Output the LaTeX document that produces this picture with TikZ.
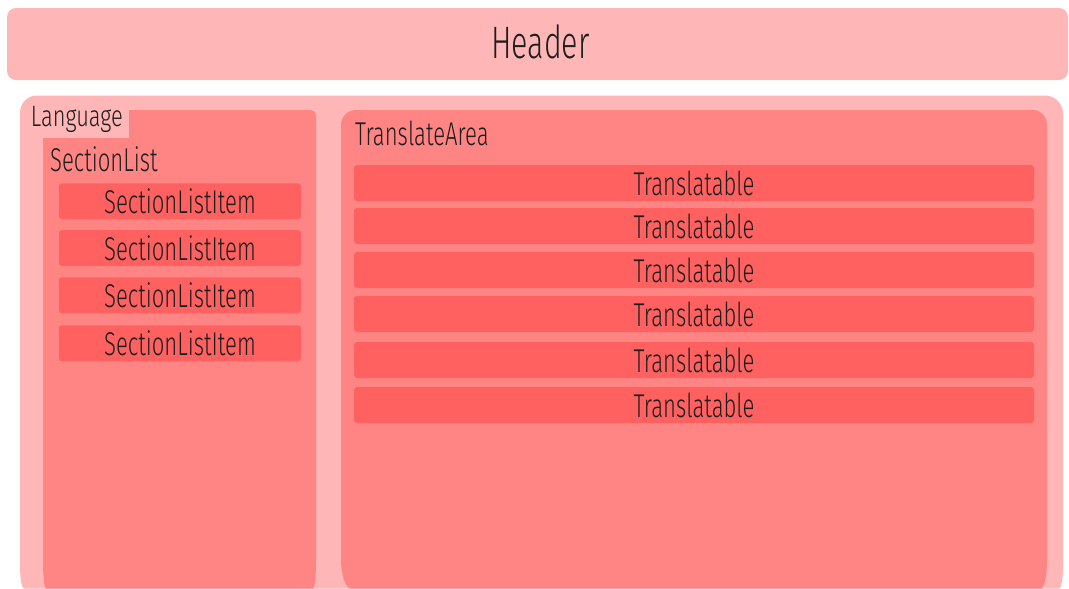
\documentclass[tikz,border=0pt]{standalone}
\usepackage{fontspec}
\newfontfamily\condfont{Fira Sans Light}[FakeStretch=0.67]
\newfontfamily\langfont{Fira Sans Light}[FakeStretch=0.74]
\definecolor{cLight}{HTML}{FFB6B6}
\definecolor{cMid}{HTML}{FF8585}
\definecolor{cDark}{HTML}{FF6161}
\definecolor{cText}{HTML}{1E1E1E}
\tikzset{
  lbltext/.style={text=cText, inner sep=0pt, font=\condfont\fontsize{33}{38}\selectfont},
  itembox/.style={lbltext, fill=cDark, rounded corners=3pt, minimum height=36pt,
                  text height=24.6pt, text depth=0pt},
  sectitem/.style={itembox, minimum width=242pt},
  transitem/.style={itembox, minimum width=680pt},
}
\begin{document}
\begin{tikzpicture}[x=1pt,y=-1pt]
\useasboundingbox[fill=white] (0,0) rectangle (1069,589);
% Header
\node[lbltext, fill=cLight, rounded corners=9pt, minimum width=1061pt, minimum height=72pt,
      text height=28.6pt, text depth=0pt, font=\condfont\fontsize{45.5}{52}\selectfont]
      (header) at (537.5,44) {\hspace{6pt}Header};
% Language outer area
\fill[cLight] (20,112.5) .. controls (20,103.1) and (27.6,95.5) .. (37,95.5)
  -- (1045,95.5) .. controls (1054.9,95.5) and (1063,103.6) .. (1063,113.5)
  -- (1063,566.5) .. controls (1063,578.6) and (1061.2,588.5) .. (1059,588.5)
  -- (24,588.5) .. controls (21.8,588.5) and (20,578.6) .. (20,566.5) -- cycle;
% SectionList area
\fill[cMid] (43,115) .. controls (43,112.2) and (45.2,110) .. (48,110)
  -- (310,110) .. controls (313.3,110) and (316,112.7) .. (316,116)
  -- (316,560.5) .. controls (316,576) and (314.7,588.5) .. (313,588.5)
  -- (46,588.5) .. controls (44.3,588.5) and (43,576) .. (43,560.5) -- cycle;
% TranslateArea area
\fill[cMid] (341,125) .. controls (341,116.7) and (347.7,110) .. (356,110)
  -- (1033,110) .. controls (1040.7,110) and (1047,116.3) .. (1047,124)
  -- (1047,560.5) .. controls (1047,576) and (1044.3,588.5) .. (1041,588.5)
  -- (351,588.5) .. controls (345.5,588.5) and (341,575.1) .. (341,558.5) -- cycle;
% Labels
\node[lbltext, fill=cLight, anchor=north west, inner xsep=3.7pt, inner ysep=0pt,
      text width=93.9pt, align=left, text height=16.7pt, text depth=11pt,
      font=\langfont\fontsize{29.5}{34}\selectfont]
      (language) at (27,110) {Language};
\node[lbltext, anchor=base west] (sectionlist) at (50,171.7) {SectionList};
\node[lbltext, anchor=base west] (translatearea) at (355,145) {TranslateArea};
% SectionListItems
\node[sectitem] (s1) at (180,201.3) {SectionListItem};
\node[sectitem] (s2) at (180,248) {SectionListItem};
\node[sectitem] (s3) at (180,295.3) {SectionListItem};
\node[sectitem] (s4) at (180,343.3) {SectionListItem};
% Translatables
\node[transitem] (t1) at (694,183) {Translatable};
\node[transitem] (t2) at (694,226) {Translatable};
\node[transitem] (t3) at (694,270) {Translatable};
\node[transitem] (t4) at (694,314) {Translatable};
\node[transitem] (t5) at (694,360) {Translatable};
\node[transitem] (t6) at (694,405) {Translatable};
\end{tikzpicture}
\end{document}
